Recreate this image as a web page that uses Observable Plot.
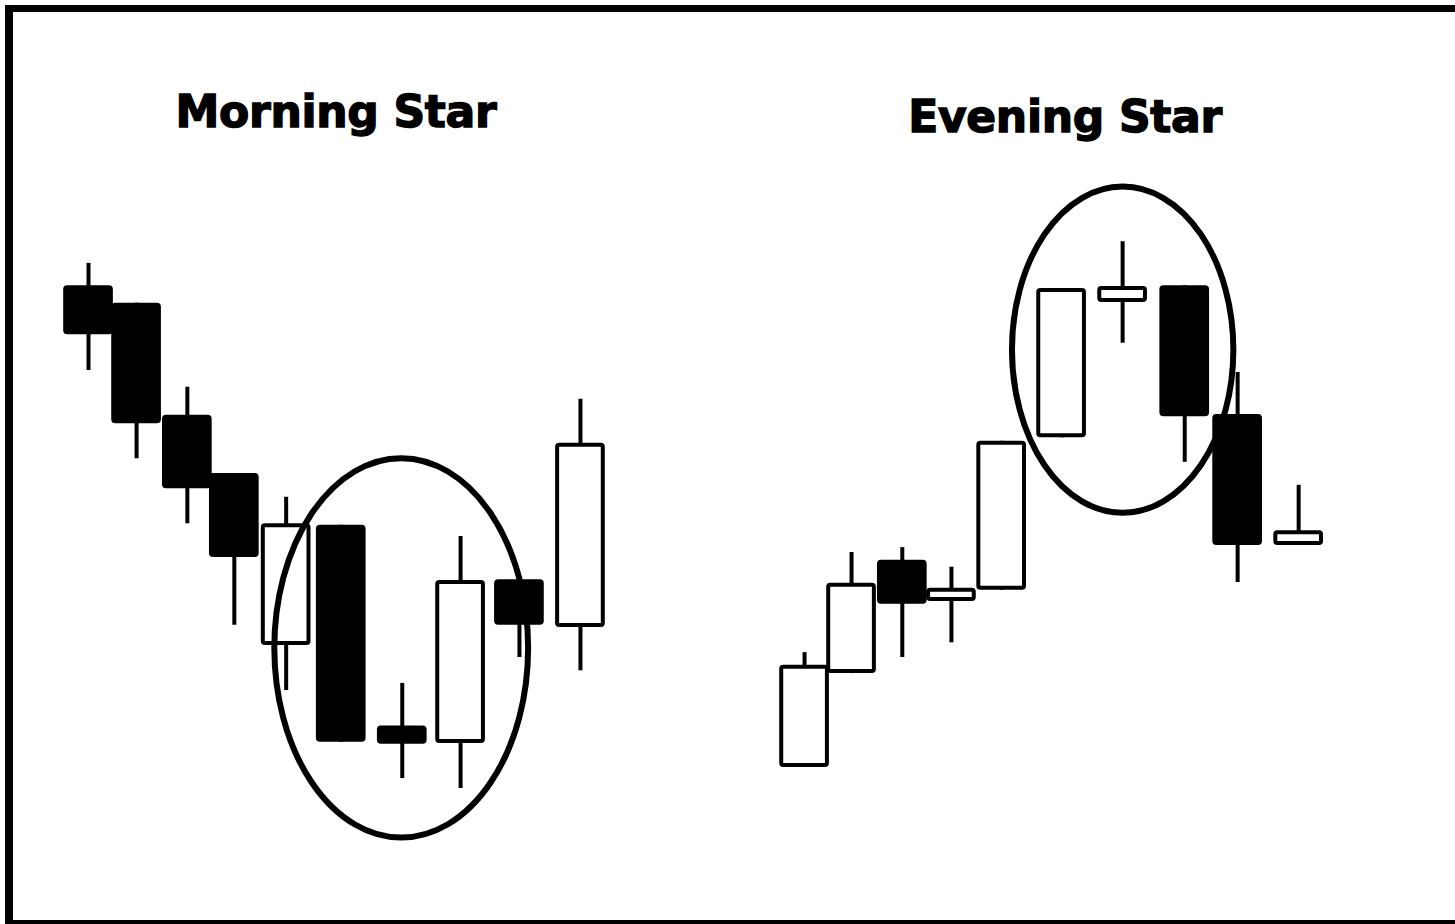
<!DOCTYPE html>
<html>
<head>
<meta charset="utf-8">
<script src="https://cdn.jsdelivr.net/npm/d3@7"></script>
<script src="https://cdn.jsdelivr.net/npm/@observablehq/plot@0.6"></script>
<style>
  html, body { margin: 0; padding: 0; background: #fff; overflow: hidden; width: 1455px; height: 924px; }
  #frame { position: absolute; left: 5px; top: 5px; width: 1470px; height: 919px; box-sizing: border-box;
           border-top: 7px solid #000; border-left: 8px solid #000; border-bottom: 4px solid #000; }
  .title { position: absolute; width: 600px; text-align: center; font-family: "DejaVu Sans", sans-serif;
           font-weight: bold; font-size: 44px; line-height: 44px; color: #000; white-space: nowrap;
           -webkit-text-stroke: 1.4px #000; letter-spacing: -0.3px; }
  #chart { position: absolute; left: 0; top: 160px; }
</style>
</head>
<body>
<div id="frame"></div>
<div class="title" id="t1"></div>
<div class="title" id="t2"></div>
<div id="chart"></div>
<script>
// ---- Data (x in session units, prices in arbitrary price units) ----
const patternNames = ["Morning Star", "Evening Star"];

const msX     = [1.63, 2.52, 3.46, 4.33, 5.29, 6.31, 7.44, 8.52, 9.61, 10.74];
const msOpen  = [82.1, 79.6, 63.6, 55.3, 30.7, 47.9, 19.2, 16.7, 40.1, 33.3];
const msHigh  = [85.3, 79.6, 67.6, 55.3, 51.9, 47.9, 25.3, 46.3, 40.1, 65.9];
const msLow   = [70.0, 57.4, 48.1, 33.6, 24.3, 16.9, 11.7, 10.3, 29.0, 27.1];
const msClose = [75.1, 62.4, 53.1, 43.3, 48.1, 16.9, 16.6, 40.0, 33.6, 59.6];

const esX     = [14.89, 15.76, 16.70, 17.61, 18.54, 19.65, 20.78, 21.93, 22.91, 24.04];
const esOpen  = [13.3, 26.7, 42.9, 37.0, 38.6, 60.4, 79.7, 82.1, 63.7, 45.0];
const esHigh  = [29.7, 44.0, 44.7, 41.9, 59.9, 81.7, 88.4, 82.1, 69.7, 53.6];
const esLow   = [13.3, 26.7, 29.0, 31.1, 38.6, 60.4, 73.9, 56.9, 39.7, 45.0];
const esClose = [27.9, 39.6, 36.6, 38.9, 59.9, 81.7, 82.0, 63.4, 45.0, 47.1];

// highlighted region of each pattern (center x, center price, x radius, price radius)
const ringX  = [7.43, 20.79];
const ringY  = [30.3, 72.9];
const ringRX = [2.35, 2.05];
const ringRY = [27.1, 23.3];

// ---- Build table ----
function build(xs, o, h, l, c, name) {
  return xs.map((x, i) => ({pattern: name, x, open: o[i], high: h[i], low: l[i], close: c[i]}));
}
const candles = [
  ...build(msX, msOpen, msHigh, msLow, msClose, patternNames[0]),
  ...build(esX, esOpen, esHigh, esLow, esClose, patternNames[1])
];
const rings = ringX.map((x, i) => ({x, y: ringY[i], rx: ringRX[i], ry: ringRY[i]}));

const W = 1455, H = 700;
const pxPerUnit = 54;
const hw = 0.46;

function ringMark(index, scales) {
  const g = d3.create("svg:g");
  for (const r of rings) {
    g.append("ellipse")
      .attr("cx", scales.x(r.x))
      .attr("cy", scales.y(r.y))
      .attr("rx", Math.abs(scales.x(r.x + r.rx) - scales.x(r.x)))
      .attr("ry", Math.abs(scales.y(r.y + r.ry) - scales.y(r.y)))
      .attr("fill", "none")
      .attr("stroke", "black")
      .attr("stroke-width", 6);
  }
  return g.node();
}

const chart = Plot.plot({
  width: W,
  height: H,
  margin: 0,
  style: {background: "transparent", overflow: "visible"},
  x: {domain: [0, W / pxPerUnit], axis: null},
  y: {domain: [0, 100], axis: null},
  marks: [
    Plot.ruleX(candles, {x: "x", y1: "low", y2: "high", stroke: "black", strokeWidth: 4}),
    Plot.rect(candles.filter(d => d.close >= d.open), {
      x1: d => d.x - hw, x2: d => d.x + hw, y1: "open", y2: "close",
      fill: "white", stroke: "black", strokeWidth: 4, inset: 2, rx: 2
    }),
    Plot.rect(candles.filter(d => d.close < d.open), {
      x1: d => d.x - hw, x2: d => d.x + hw, y1: "open", y2: "close",
      fill: "black", stroke: "black", strokeWidth: 4, inset: 2, rx: 2
    }),
    ringMark
  ]
});
document.getElementById("chart").append(chart);

const t1 = document.getElementById("t1");
t1.textContent = patternNames[0];
t1.style.left = (336 - 300) + "px";
t1.style.top = "90px";
const t2 = document.getElementById("t2");
t2.textContent = patternNames[1];
t2.style.left = (1065 - 300) + "px";
t2.style.top = "95px";
</script>
</body>
</html>
